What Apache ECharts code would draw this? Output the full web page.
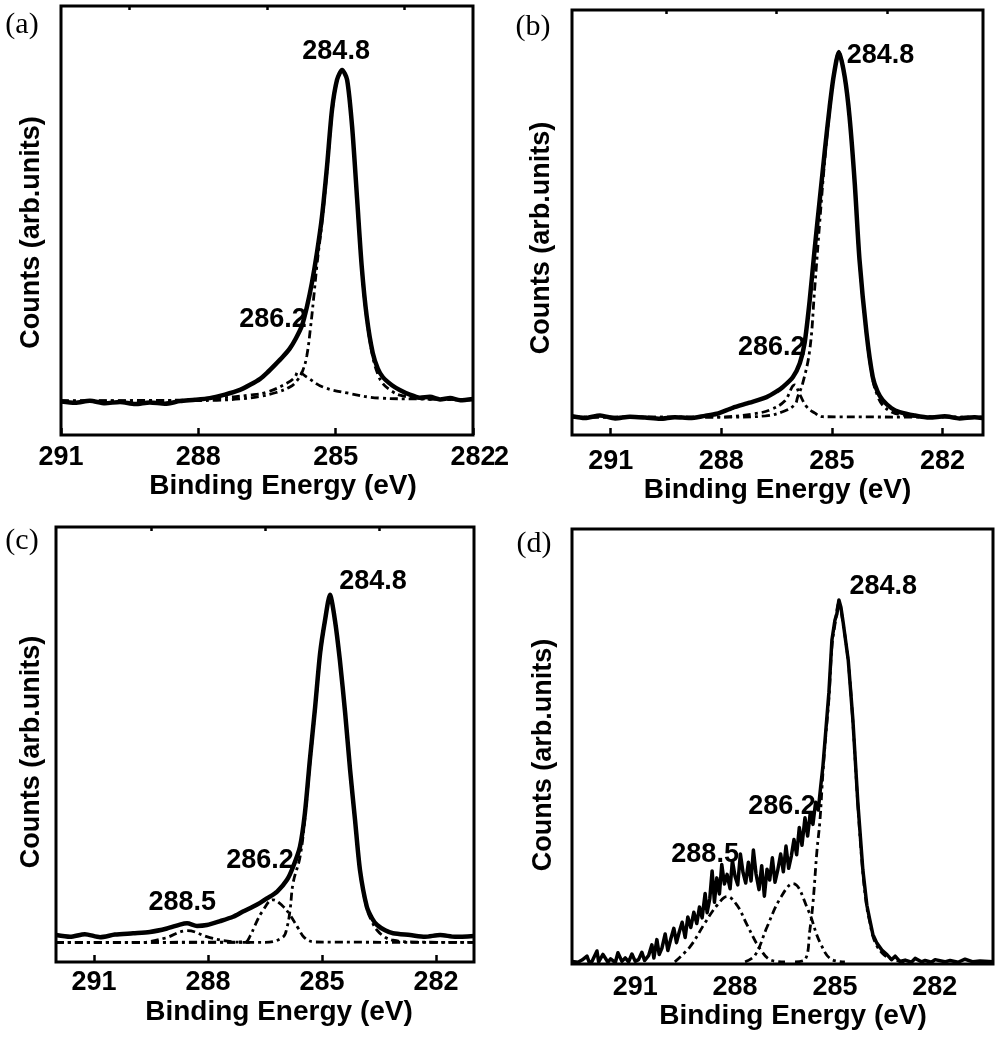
<!DOCTYPE html>
<html>
<head>
<meta charset="utf-8">
<script src="https://cdn.jsdelivr.net/npm/echarts@6/dist/echarts.min.js"></script>
<style>html,body{margin:0;padding:0;background:#fff}#c{width:1001px;height:1050px}</style>
</head>
<body>
<div id="c"></div>
<script>
// ---------- data (binding energy eV, counts arb.units) ----------
const majorTicks = [291, 288, 285, 282];
const minorTicks = [289.5, 286.5, 283.5];
const panelNames = ['(a)', '(b)', '(c)', '(d)'];
const xTitle = 'Binding Energy (eV)';
const yTitle = 'Counts (arb.units)';
const xRanges = [[282, 291], [280.9, 292.05], [281, 292], [280.25, 292.9]];

// panel (a)
const aSpectrum = [[291.00,7.8],[290.69,7.5],[290.37,8.0],[290.04,7.4],[289.71,7.7],[289.38,7.2],[289.06,7.6],[288.73,7.3],[288.40,7.9],[288.07,8.2],[287.75,8.6],[287.42,9.4],[287.09,10.5],[286.87,11.7],[286.65,13.1],[286.50,14.5],[286.33,16.3],[286.15,18.3],[286.00,20.2],[285.87,22.5],[285.74,25.4],[285.63,29.8],[285.52,35.4],[285.41,42.4],[285.30,50.8],[285.19,62.5],[285.08,75.8],[284.97,82.8],[284.86,85.1],[284.75,82.8],[284.64,71.8],[284.53,54.8],[284.43,39.2],[284.32,27.5],[284.19,19.1],[284.08,15.5],[283.97,13.5],[283.77,11.6],[283.60,10.5],[283.38,9.4],[283.16,8.7],[282.94,8.9],[282.72,8.3],[282.50,8.6],[282.28,8.1],[282.00,8.4]];
const aPeak2848 = [[291.0,7.9],[288.4,8.0],[287.6,8.1],[287.1,8.4],[286.65,9.0],[286.3,9.9],[286.0,11.2],[285.85,12.6],[285.72,15.0],[285.63,18.5],[285.55,25.0],[285.48,32.0],[285.41,39.5],[285.3,49.5],[285.19,61.5],[285.08,75.0],[284.97,82.5],[284.86,85.0],[284.75,82.5],[284.64,71.5],[284.53,54.5],[284.43,38.8],[284.32,27.0],[284.19,18.3],[284.08,14.2],[283.97,12.0],[283.77,10.2],[283.6,9.3],[283.22,8.6],[282.87,8.3],[282.0,8.2]];
const aPeak2862 = [[291.0,8.0],[288.5,8.1],[287.59,8.6],[286.87,9.3],[286.5,10.0],[286.06,12.1],[285.89,13.5],[285.82,14.7],[285.63,13.5],[285.28,11.2],[284.75,9.8],[284.03,8.6],[283.22,8.4],[282.0,8.2]];
const aLabels = [[284.99,89.3,'284.8'],[286.37,26.8,'286.2']];

// panel (b)
const bSpectrum = [[292.05,4.4],[291.70,4.0],[291.29,4.6],[290.88,3.9],[290.48,4.3],[290.07,4.1],[289.66,3.8],[289.26,4.2],[288.85,4.0],[288.45,4.5],[288.12,5.0],[287.69,6.4],[287.23,7.6],[286.77,8.9],[286.49,10.3],[286.33,11.3],[286.06,13.6],[285.87,16.9],[285.74,21.6],[285.60,31.8],[285.47,43.5],[285.33,55.3],[285.19,67.0],[285.06,77.2],[284.95,84.5],[284.81,90.1],[284.65,84.2],[284.52,74.8],[284.38,59.3],[284.25,41.2],[284.06,24.0],[283.89,13.6],[283.76,10.2],[283.62,8.2],[283.38,6.3],[283.16,5.4],[282.76,4.6],[282.35,4.1],[281.94,4.4],[281.54,3.9],[281.13,4.2],[280.91,4.0]];
const bPeak2848 = [[292.05,4.2],[287.7,4.2],[286.8,4.5],[286.3,5.6],[286.0,7.2],[285.93,8.9],[285.79,12.2],[285.6,20.0],[285.47,34.0],[285.33,50.0],[285.19,65.0],[285.06,76.5],[284.95,84.3],[284.81,90.0],[284.65,84.0],[284.52,74.5],[284.38,59.0],[284.25,41.0],[284.06,23.5],[283.89,13.0],[283.76,9.2],[283.62,7.0],[283.38,5.4],[283.16,4.8],[282.76,4.4],[280.91,4.2]];
const bPeak2862 = [[292.05,4.2],[288.0,4.2],[287.77,4.3],[287.1,5.0],[286.68,5.9],[286.28,8.0],[286.01,11.8],[285.87,9.5],[285.68,6.6],[285.47,5.2],[285.25,4.3],[280.91,4.2]];
const bLabels = [[283.68,89.4,'284.8'],[286.63,20.5,'286.2']];

// panel (c)
const cSpectrum = [[292.0,6.2],[291.63,5.8],[291.24,6.4],[290.84,5.7],[290.45,6.3],[289.97,6.6],[289.53,6.9],[289.08,7.7],[288.74,8.6],[288.55,8.9],[288.29,8.3],[288.03,8.5],[287.68,9.4],[287.34,10.4],[287.08,11.6],[286.82,12.7],[286.63,13.6],[286.45,14.6],[286.18,16.2],[285.92,18.9],[285.76,21.9],[285.58,26.5],[285.45,34.2],[285.32,46.4],[285.18,58.7],[285.05,71.0],[284.92,78.6],[284.79,84.4],[284.66,78.6],[284.53,69.4],[284.39,57.2],[284.26,44.1],[284.13,32.6],[284.0,21.1],[283.82,12.7],[283.68,10.0],[283.55,8.5],[283.34,7.3],[283.13,6.6],[282.68,6.2],[282.29,5.8],[281.89,6.2],[281.5,5.8],[281.0,6.0]];
const cPeak2848 = [[292.0,4.5],[286.5,4.5],[286.03,5.7],[285.92,8.0],[285.84,12.0],[285.76,18.2],[285.58,24.1],[285.45,33.0],[285.32,45.5],[285.18,58.0],[285.05,70.5],[284.92,78.3],[284.79,84.2],[284.66,78.4],[284.53,69.2],[284.39,57.0],[284.26,44.0],[284.13,32.4],[284.0,21.0],[283.82,12.3],[283.68,9.2],[283.55,7.3],[283.34,5.7],[283.13,5.0],[282.68,4.6],[281.0,4.5]];
const cPeak2862 = [[292.0,4.5],[287.03,4.6],[286.89,6.0],[286.76,8.5],[286.58,11.5],[286.29,14.3],[286.05,13.0],[285.84,10.8],[285.63,7.8],[285.45,5.5],[285.18,4.6],[281.0,4.5]];
const cPeak2885 = [[292.0,4.5],[289.79,4.5],[289.13,5.5],[288.55,7.2],[287.95,5.6],[287.29,4.6],[286.9,4.5]];
const cLabels = [[283.66,87.4,'284.8'],[286.63,23.4,'286.2'],[288.68,13.6,'288.5']];

// panel (d)
const dSpectrum = [[292.9,0.6],[292.72,0.4],[292.6,0.9],[292.45,1.8],[292.38,0.3],[292.3,0.6],[292.15,3.0],[292.1,0.5],[291.97,2.2],[291.82,0.4],[291.74,1.2],[291.6,0.3],[291.52,2.6],[291.4,0.6],[291.3,1.4],[291.2,0.5],[291.1,2.3],[291.0,0.6],[290.9,1.0],[290.8,2.7],[290.72,0.8],[290.6,1.9],[290.5,4.4],[290.44,1.4],[290.35,5.6],[290.28,2.2],[290.2,3.6],[290.1,6.9],[290.02,3.1],[289.93,5.8],[289.84,8.2],[289.76,4.9],[289.68,7.3],[289.59,9.6],[289.5,6.1],[289.42,10.8],[289.33,8.4],[289.24,11.9],[289.15,9.3],[289.07,13.1],[288.99,10.6],[288.9,16.2],[288.84,11.8],[288.76,15.0],[288.69,21.4],[288.62,14.2],[288.55,19.8],[288.47,16.1],[288.4,22.9],[288.32,18.4],[288.24,20.6],[288.15,17.3],[288.08,23.8],[288.0,20.1],[287.92,18.2],[287.84,25.3],[287.76,21.0],[287.68,18.6],[287.6,23.4],[287.52,19.1],[287.45,26.2],[287.37,20.7],[287.28,17.1],[287.2,22.6],[287.12,15.6],[287.04,21.8],[286.96,19.3],[286.88,24.4],[286.8,18.8],[286.72,21.5],[286.63,25.3],[286.55,21.2],[286.47,27.1],[286.39,22.0],[286.31,24.8],[286.23,28.6],[286.15,25.1],[286.07,31.4],[285.99,27.3],[285.9,33.6],[285.82,29.4],[285.74,34.8],[285.66,32.1],[285.58,37.2],[285.5,35.4],[285.43,40.6],[285.36,45.5],[285.27,54.0],[285.18,62.5],[285.09,74.5],[285.0,79.0],[284.94,80.5],[284.88,83.7],[284.82,82.0],[284.75,78.4],[284.6,69.9],[284.46,56.1],[284.31,37.0],[284.16,21.6],[284.04,13.5],[283.95,10.1],[283.86,6.8],[283.74,4.8],[283.59,3.2],[283.43,2.1],[283.3,1.0],[283.19,1.8],[283.05,0.6],[282.89,0.9],[282.7,0.4],[282.59,1.3],[282.4,0.5],[282.29,0.8],[282.1,0.4],[281.99,1.0],[281.7,0.5],[281.54,0.8],[281.3,0.4],[281.09,1.1],[280.85,0.5],[280.64,0.7],[280.25,0.5]];
const dPeak2848 = [[286.2,0.5],[285.9,1.0],[285.75,8.0],[285.66,14.0],[285.54,26.0],[285.45,33.0],[285.36,44.0],[285.27,53.0],[285.18,61.0],[285.09,73.0],[285.0,78.0],[284.88,83.0],[284.75,78.0],[284.6,69.5],[284.46,55.5],[284.31,36.5],[284.16,21.0],[284.04,13.0],[283.95,9.6],[283.86,6.4],[283.74,4.2],[283.59,2.6],[283.34,1.2],[282.89,0.5]];
const dPeak2862 = [[287.7,0.5],[287.4,2.0],[287.04,8.5],[286.65,15.0],[286.26,18.5],[285.81,12.5],[285.45,5.0],[285.09,1.0],[284.7,0.5]];
const dPeak2885 = [[289.81,0.5],[289.35,4.0],[288.9,9.5],[288.54,13.5],[288.24,15.5],[287.94,13.5],[287.64,9.0],[287.25,3.5],[286.89,0.8],[286.5,0.5]];
const dLabels = [[283.55,86.7,'284.8'],[286.59,36.1,'286.2'],[288.9,25.1,'288.5']];

const spectra = [aSpectrum, bSpectrum, cSpectrum, dSpectrum];
const components = [[aPeak2848, aPeak2862], [bPeak2848, bPeak2862], [cPeak2848, cPeak2862, cPeak2885], [dPeak2848, dPeak2862, dPeak2885]];
const annotations = [aLabels, bLabels, cLabels, dLabels];

// ---------- layout / style ----------
const SANS = '"Liberation Sans", Arial, sans-serif';
const grids = [
  {left: 61, top: 6, width: 412, height: 429},
  {left: 572, top: 10, width: 411, height: 425},
  {left: 56, top: 527, width: 418, height: 435},
  {left: 572, top: 529, width: 421, height: 435}
];
const labelMargin = [9, 13, 7, 10];
const xNameGap = [30, 41, 36, 35];
const xNamePad = [[0,0,0,32],[0,0,0,0],[0,0,0,28],[0,0,0,21]];
const yNameGap = [16, 17, 11, 15];
const yNamePad = [[0,24,0,0],[0,31,0,0],[0,15,0,0],[0,17,0,0]];
const showTicks = [true, true, true, false];
const smoothing = [0.25, 0.25, 0.25, false];

const option = {
  animation: false,
  backgroundColor: '#fff',
  grid: grids.map(g => Object.assign({show: true, borderColor: '#000', borderWidth: 3, backgroundColor: 'transparent'}, g)),
  xAxis: [],
  yAxis: [],
  series: [],
  graphic: []
};

for (let i = 0; i < 4; i++) {
  const [mn, mx] = xRanges[i];
  option.xAxis.push({
    type: 'value', gridIndex: i, inverse: true, min: mn, max: mx,
    name: xTitle, nameLocation: 'middle', nameGap: xNameGap[i],
    nameTextStyle: {fontFamily: SANS, fontWeight: 'bold', fontSize: 28, color: '#000', padding: xNamePad[i]},
    axisLine: {show: false},
    splitLine: {show: false},
    axisTick: {show: showTicks[i], inside: true, length: 7, lineStyle: {color: '#000', width: 2.5}, customValues: majorTicks},
    axisLabel: {show: true, margin: labelMargin[i], fontFamily: SANS, fontWeight: 'bold', fontSize: 27, color: '#000',
      customValues: majorTicks, showMinLabel: true, showMaxLabel: true, formatter: v => String(Math.round(v))}
  });
  option.xAxis.push({
    type: 'value', gridIndex: i, inverse: true, min: mn, max: mx,
    axisLine: {show: false}, splitLine: {show: false}, axisLabel: {show: false},
    axisTick: {show: showTicks[i], inside: true, length: 4, lineStyle: {color: '#000', width: 2.5}, customValues: minorTicks}
  });
  option.yAxis.push({
    type: 'value', gridIndex: i, min: 0, max: 100,
    name: yTitle, nameLocation: 'middle', nameRotate: 90, nameGap: yNameGap[i],
    nameTextStyle: {fontFamily: SANS, fontWeight: 'bold', fontSize: 27, color: '#000', padding: yNamePad[i]},
    axisLine: {show: false}, axisTick: {show: false}, axisLabel: {show: false}, splitLine: {show: false}
  });
  // measured spectrum
  option.series.push({
    type: 'line', xAxisIndex: 2 * i, yAxisIndex: i, data: spectra[i], showSymbol: false, symbol: 'none',
    smooth: smoothing[i], lineStyle: {color: '#000', width: i === 3 ? 3.5 : 4.5, join: 'round'}, z: 2, silent: true
  });
  // fitted components
  components[i].forEach(comp => {
    option.series.push({
      type: 'line', xAxisIndex: 2 * i, yAxisIndex: i, data: comp, showSymbol: false, symbol: 'none',
      smooth: 0.4, lineStyle: {color: '#000', width: 2.8, type: [8, 4, 3, 4]}, z: 3, silent: true
    });
  });
  // peak annotations
  option.series.push({
    type: 'scatter', xAxisIndex: 2 * i, yAxisIndex: i, data: annotations[i], symbolSize: 1,
    itemStyle: {color: '#fff', opacity: 0}, silent: true, z: 5,
    label: {show: true, position: 'inside', formatter: p => p.data[2], fontFamily: SANS, fontWeight: 'bold',
      fontSize: 27, color: '#000', opacity: 1, textBorderWidth: 0, textShadowBlur: 0}
  });
}

const letterPos = [[22, 25], [533, 27], [22, 541], [534, 544]];
letterPos.forEach((p, i) => {
  option.graphic.push({type: 'text', x: p[0], y: p[1], z: 10,
    style: {text: panelNames[i], font: '30px "Liberation Serif", "Times New Roman", serif', fill: '#000', align: 'center', verticalAlign: 'middle'}});
});
// stray character next to the 282 label of panel (a) in the original figure
option.graphic.push({type: 'text', x: 494, y: 458, z: 10,
  style: {text: '2', font: 'bold 27px "Liberation Sans", Arial, sans-serif', fill: '#000', align: 'left', verticalAlign: 'middle'}});

const chart = echarts.init(document.getElementById('c'), null, {renderer: 'canvas', width: 1001, height: 1050});
chart.setOption(option);
</script>
</body>
</html>
